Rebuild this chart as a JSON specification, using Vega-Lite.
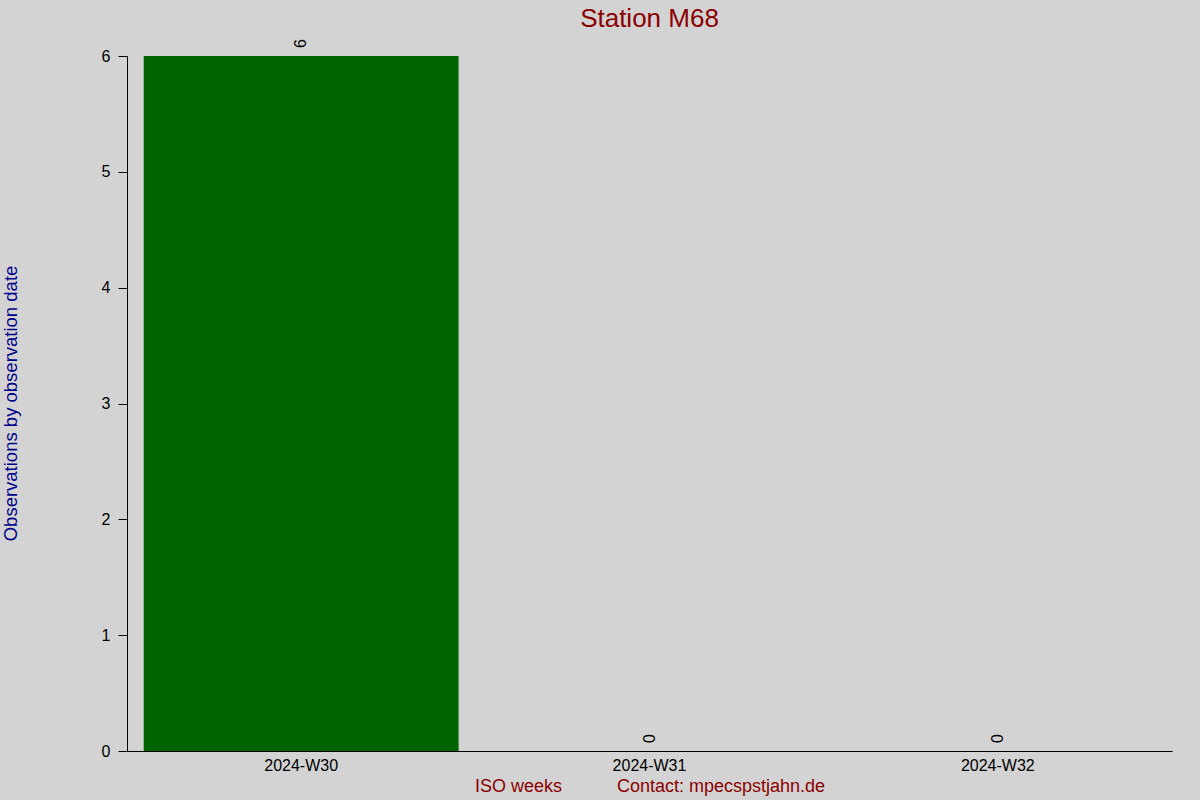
{
  "$schema": "https://vega.github.io/schema/vega-lite/v6.json",
  "width": 1045,
  "height": 695,
  "autosize": "none",
  "padding": {"left": 127, "top": 56, "right": 28, "bottom": 49},
  "background": "#d3d3d3",
  "title": {
    "text": "Station M68",
    "font": "Liberation Sans",
    "fontSize": 26,
    "fontWeight": "normal",
    "color": "#8b0000",
    "baseline": "alphabetic",
    "anchor": "middle",
    "offset": -14
  },
  "data": {
    "values": [
      {"week": "2024-W30", "count": 6},
      {"week": "2024-W31", "count": 0},
      {"week": "2024-W32", "count": 0}
    ]
  },
  "encoding": {
    "x": {
      "field": "week",
      "type": "nominal",
      "sort": null,
      "scale": {"paddingInner": 0.096, "paddingOuter": 0.048},
      "axis": {
        "title": "ISO weeks\u00a0\u00a0\u00a0\u00a0\u00a0\u00a0\u00a0\u00a0\u00a0\u00a0\u00a0Contact: mpecspstjahn.de",
        "titleColor": "#8b0000",
        "titleFontSize": 18,
        "titleFontWeight": "normal",
        "titleFont": "Liberation Sans",
        "titleY": 35,
        "titleBaseline": "middle",
        "labelAngle": 0,
        "labelFont": "Liberation Sans",
        "labelFontSize": 16,
        "labelColor": "black",
        "labelPadding": 6,
        "ticks": false,
        "domainColor": "black",
        "domainWidth": 1
      }
    },
    "y": {
      "field": "count",
      "type": "quantitative",
      "scale": {"domain": [0, 6], "nice": false},
      "axis": {
        "title": "Observations by observation date",
        "titleColor": "#00008b",
        "titleFontSize": 18.5,
        "titleFontWeight": "normal",
        "titleFont": "Liberation Sans",
        "titleAngle": -90,
        "titleX": -117,
        "titleY": 347,
        "titleAlign": "center",
        "titleBaseline": "middle",
        "values": [0, 1, 2, 3, 4, 5, 6],
        "labelFont": "Liberation Sans",
        "labelFontSize": 16,
        "labelColor": "black",
        "labelPadding": 8,
        "tickSize": 9,
        "tickColor": "black",
        "domainColor": "black",
        "grid": false
      }
    }
  },
  "layer": [
    {
      "mark": {"type": "bar", "color": "#006400"}
    },
    {
      "mark": {
        "type": "text",
        "angle": 270,
        "align": "left",
        "baseline": "middle",
        "dx": 8,
        "font": "Liberation Sans",
        "fontSize": 16,
        "color": "black"
      },
      "encoding": {
        "text": {"field": "count", "type": "quantitative"}
      }
    }
  ],
  "config": {
    "view": {"stroke": null}
  }
}
